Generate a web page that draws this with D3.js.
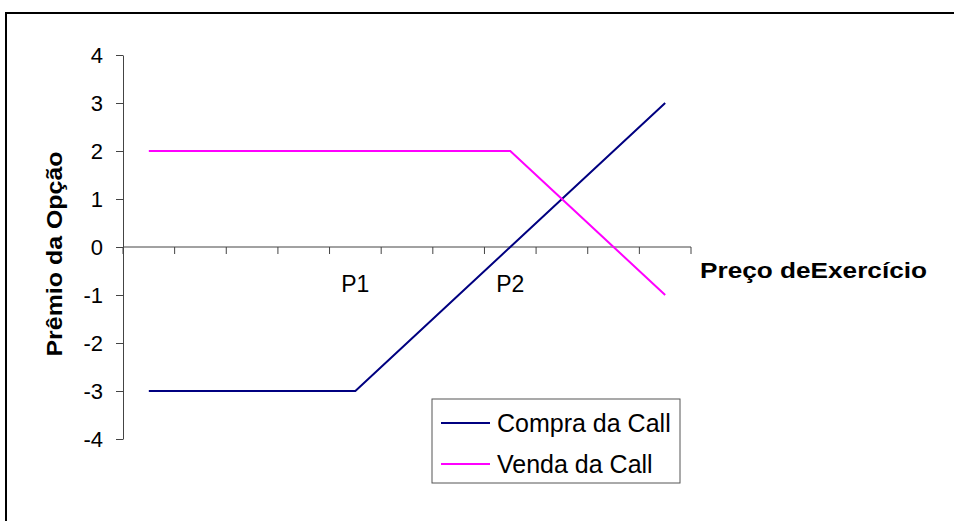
<!DOCTYPE html>
<html>
<head>
<meta charset="utf-8">
<script src="https://cdn.jsdelivr.net/npm/d3@7"></script>
<style>
  body { margin: 0; background: #fff; }
  svg { display: block; font-family: Arial, "Liberation Sans", sans-serif; }
</style>
</head>
<body>
<div id="chart"></div>
<script>
// categories along the strike axis, only two are labelled
var categories = ["c0", "c1", "c2", "c3", "P1", "c5", "c6", "P2", "c8", "c9", "c10"];
var categoryLabels = ["", "", "", "", "P1", "", "", "P2", "", "", ""];
var yTicks = [-4, -3, -2, -1, 0, 1, 2, 3, 4];

// payoff series
var compraCall = [-3, -3, -3, -3, -3, -2, -1, 0, 1, 2, 3];
var vendaCall = [2, 2, 2, 2, 2, 2, 2, 2, 1, 0, -1];

var seriesNames = ["Compra da Call", "Venda da Call"];
var seriesColors = ["#000080", "#FF00FF"];

var w = 954, h = 521;
var margin = { top: 55, left: 123, right: 263, bottom: 82 };
var width = w - margin.left - margin.right;   // 568
var height = h - margin.top - margin.bottom;  // 384

var svg = d3.select("#chart").append("svg")
    .attr("width", w)
    .attr("height", h);

// outer chart frame (runs off the right and bottom of the window)
svg.append("rect")
    .attr("x", 6).attr("y", 13)
    .attr("width", w + 20).attr("height", h + 20)
    .attr("fill", "#fff")
    .attr("stroke", "#000")
    .attr("stroke-width", 2);

var g = svg.append("g").attr("transform", `translate(${margin.left},${margin.top})`);

var xScale = d3.scaleBand().domain(categories).range([0, width]).padding(0);
var yScale = d3.scaleLinear().domain([-4, 4]).range([height, 0]);
var xc = d => xScale(d) + xScale.bandwidth() / 2;

// --- y axis ---
var yAxis = g.append("g")
    .call(d3.axisLeft(yScale).tickValues(yTicks).tickSize(7).tickSizeOuter(0).tickPadding(13).tickFormat(d => String(d)));
yAxis.select(".domain").attr("stroke", "#444");
yAxis.selectAll(".tick line").attr("stroke", "#444");
yAxis.selectAll("text")
    .attr("fill", "#000")
    .attr("font-family", null)
    .attr("font-size", null)
    .style("font-size", "22px")
    .attr("dy", "0.36em");

// --- x axis at y = 0, ticks between categories ---
var y0 = yScale(0);
var xAxis = g.append("g").attr("transform", `translate(0,${y0})`);
xAxis.append("line")
    .attr("x1", 0).attr("x2", width)
    .attr("stroke", "#444");
var tickPos = categories.map(c => xScale(c)).concat([width]);
xAxis.selectAll(".xt")
    .data(tickPos)
    .enter().append("line")
    .attr("class", "xt")
    .attr("x1", d => d).attr("x2", d => d)
    .attr("y1", 0).attr("y2", 7)
    .attr("stroke", "#444");

g.append("g").selectAll("text")
    .data(categories)
    .enter().append("text")
    .attr("x", d => xc(d))
    .attr("y", 237)
    .attr("text-anchor", "middle")
    .style("font-size", "23px")
    .text((d, i) => categoryLabels[i]);

// --- lines ---
var line = d3.line()
    .x((d, i) => xc(categories[i]))
    .y(d => yScale(d));

[compraCall, vendaCall].forEach(function (vals, k) {
    g.append("path")
        .datum(vals)
        .attr("fill", "none")
        .attr("stroke", seriesColors[k])
        .attr("stroke-width", 2)
        .attr("d", line);
});

// --- axis titles ---
svg.append("text")
    .attr("x", 700)
    .attr("y", 278)
    .attr("textLength", 227)
    .attr("lengthAdjust", "spacingAndGlyphs")
    .style("font-size", "22px")
    .style("font-weight", "bold")
    .text("Preço deExercício");

svg.append("text")
    .attr("transform", "translate(62,254) rotate(-90)")
    .attr("text-anchor", "middle")
    .attr("textLength", 205)
    .attr("lengthAdjust", "spacingAndGlyphs")
    .style("font-size", "22px")
    .style("font-weight", "bold")
    .text("Prêmio da Opção");

// --- legend ---
var legend = svg.append("g").attr("transform", "translate(432,399)");
legend.append("rect")
    .attr("width", 248).attr("height", 84)
    .attr("fill", "#fff")
    .attr("stroke", "#555")
    .attr("stroke-width", 1);

var items = legend.selectAll(".item")
    .data(seriesNames)
    .enter().append("g")
    .attr("transform", (d, i) => `translate(0,${24 + i * 41})`);
items.append("line")
    .attr("x1", 9).attr("x2", 58)
    .attr("stroke", (d, i) => seriesColors[i])
    .attr("stroke-width", 2);
items.append("text")
    .attr("x", 65)
    .attr("dy", "0.35em")
    .style("font-size", "25px")
    .text(d => d);
</script>
</body>
</html>
